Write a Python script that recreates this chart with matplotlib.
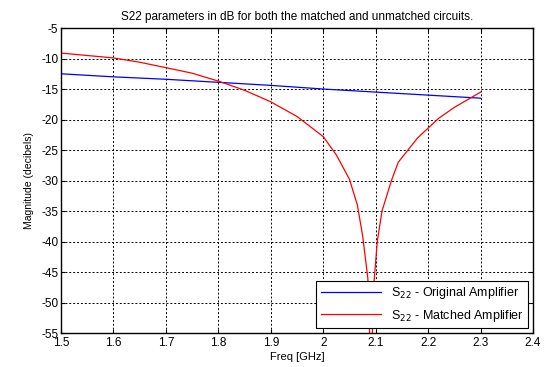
import numpy as np
import matplotlib.pyplot as plt

plt.rcParams['font.family'] = ['Liberation Sans', 'DejaVu Sans']
plt.rcParams['axes.unicode_minus'] = False

# data
f_orig = [1.5, 1.6, 1.7, 1.8, 1.9, 2.0, 2.1, 2.2, 2.3]
s22_orig = [-12.5, -13.0, -13.4, -13.9, -14.4, -15.0, -15.5, -16.0, -16.5]

f_match = [1.50, 1.55, 1.60, 1.65, 1.70, 1.75, 1.80, 1.85, 1.90, 1.95, 2.00,
           2.025, 2.05, 2.065, 2.075, 2.085, 2.091, 2.097, 2.103, 2.112,
           2.13, 2.143, 2.18, 2.22, 2.25, 2.30]
s22_match = [-9.1, -9.5, -9.9, -10.6, -11.5, -12.4, -13.7, -15.2, -17.1, -19.5, -22.8,
             -25.8, -29.8, -34.0, -39.0, -46.0, -62.0, -46.5, -40.0, -35.0,
             -30.0, -27.0, -23.0, -19.8, -18.0, -15.5]

fig = plt.figure(figsize=(5.49, 3.67), dpi=100)
ax = fig.add_axes([0.111, 0.0926, 0.86, 0.831])

ax.plot(f_orig, s22_orig, color='blue', lw=0.9, label='S$_{22}$ - Original Amplifier')
ax.plot(f_match, s22_match, color='red', lw=0.9, label='S$_{22}$ - Matched Amplifier')

ax.set_xlim(1.5, 2.4)
ax.set_ylim(-55, -5)
ax.set_xticks(np.arange(1.5, 2.41, 0.1))
ax.set_xticklabels(['1.5', '1.6', '1.7', '1.8', '1.9', '2', '2.1', '2.2', '2.3', '2.4'])
ax.set_yticks(np.arange(-55, -4, 5))
ax.grid(True, color='black', linestyle=(0, (2, 2)), linewidth=0.7)
ax.tick_params(direction='in', top=True, right=True, labelsize=8.5, length=3)
ax.tick_params(axis='x', pad=3)
ax.tick_params(axis='y', pad=2)
for sp in ax.spines.values():
    sp.set_linewidth(1.0)

ax.set_title('S22 parameters in dB for both the matched and unmatched circuits.', fontsize=8.5, pad=6)
ax.set_xlabel('Freq [GHz]', fontsize=8, labelpad=2)
ax.set_ylabel('Magnitude (decibels)', fontsize=7.5, labelpad=5)

leg = ax.legend(loc='lower right', fontsize=9, fancybox=False, framealpha=1,
                edgecolor='black', borderaxespad=0.4, handlelength=4.8,
                labelspacing=0.5, borderpad=0.35)
leg.get_frame().set_linewidth(0.8)

fig.savefig('out.png', dpi=100)
